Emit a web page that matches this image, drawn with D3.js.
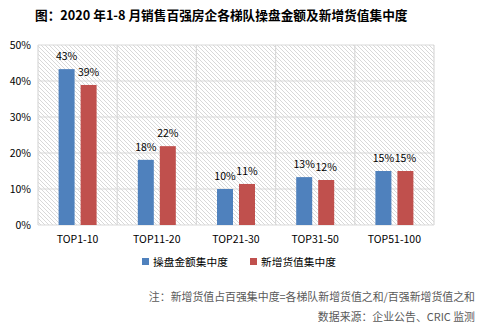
<!DOCTYPE html>
<html><head><meta charset="utf-8">
<script src="https://cdn.jsdelivr.net/npm/d3@7"></script>
<style>
body{margin:0;background:#fff;}
text{font-family:"Noto Sans CJK SC","Noto Sans",sans-serif;}
</style></head>
<body><svg id="c" width="487" height="332"></svg>
<script>
const categories = ["TOP1-10","TOP11-20","TOP21-30","TOP31-50","TOP51-100"];
const seriesNames = ["操盘金额集中度","新增货值集中度"];
const operateValues = [43.3, 18.1, 10.0, 13.3, 15.0];
const newValues = [38.9, 21.9, 11.4, 12.5, 15.0];
const valueLabels = [["43%","39%"],["18%","22%"],["10%","11%"],["13%","12%"],["15%","15%"]];
const yTicks = [0,10,20,30,40,50];
const colors = ["#4f81bd","#c0504d"];
const titleText = "图：2020 年1-8 月销售百强房企各梯队操盘金额及新增货值集中度";
const note1 = "注：新增货值占百强集中度=各梯队新增货值之和/百强新增货值之和";
const note2 = "数据来源：企业公告、CRIC 监测";

const svg = d3.select("#c");
const L=38, R=434, T=45, B=225;
const x = d3.scaleBand().domain(categories).range([L,R]);
const y = d3.scaleLinear().domain([0,50]).range([B,T]);
const barW = 16, gap = 6;

const defs = svg.append("defs");
const pat = defs.append("pattern").attr("id","hatch").attr("patternUnits","userSpaceOnUse")
  .attr("width",4).attr("height",4);
pat.append("path").attr("d","M-1,-1 L5,5 M-1,3 L1,5 M3,-1 L5,1").attr("stroke","#d4d4d4").attr("stroke-width",0.9);

svg.append("rect").attr("x",L).attr("y",T).attr("width",R-L).attr("height",B-T).attr("fill","url(#hatch)");

// gridlines
svg.append("g").selectAll("line").data(yTicks).join("line")
  .attr("x1",L).attr("x2",R).attr("y1",d=>y(d)).attr("y2",d=>y(d))
  .attr("stroke","#d9d9d9").attr("stroke-width",1.2);
const bounds = categories.map(c=>x(c)).concat([R]);
svg.append("g").selectAll("line").data(bounds).join("line")
  .attr("x1",d=>d).attr("x2",d=>d).attr("y1",T).attr("y2",B)
  .attr("stroke","#d9d9d9").attr("stroke-width",1.2);

// y axis labels
svg.append("g").selectAll("text").data(yTicks).join("text")
  .attr("x",L-7).attr("y",d=>y(d)+4).attr("text-anchor","end")
  .attr("font-size",10.5).attr("fill","#000").text(d=>d+"%");

// bars
const data = categories.map((c,i)=>({c,i,vals:[operateValues[i],newValues[i]]}));
const groups = svg.append("g").selectAll("g").data(data).join("g");
groups.each(function(d){
  const g = d3.select(this);
  const cx = x(d.c)+x.bandwidth()/2;
  d.vals.forEach((v,s)=>{
    const bx = s===0 ? cx - gap/2 - barW : cx + gap/2;
    g.append("rect").attr("x",bx).attr("y",y(v)).attr("width",barW).attr("height",y(0)-y(v)).attr("fill",colors[s]);
    g.append("text").attr("x",bx+barW/2).attr("y",y(v)-9).attr("text-anchor","middle")
      .attr("font-size",10.5).attr("fill","#000").text(valueLabels[d.i][s]);
  });
});

// x labels
svg.append("g").selectAll("text").data(categories).join("text")
  .attr("x",d=>x(d)+x.bandwidth()/2).attr("y",243).attr("text-anchor","middle")
  .attr("font-size",10.5).attr("fill","#000").text(d=>d);

// legend
const leg = [{x:142,tx:153},{x:250,tx:261}];
seriesNames.forEach((n,i)=>{
  svg.append("rect").attr("x",leg[i].x).attr("y",258).attr("width",7).attr("height",7).attr("fill",colors[i]);
  svg.append("text").attr("x",leg[i].tx).attr("y",265.5).attr("font-size",10.7).attr("fill","#000").text(n);
});

// title
svg.append("text").attr("x",35).attr("y",20).attr("font-size",12.7).attr("font-weight","bold").attr("fill","#000").text(titleText);

// notes
svg.append("text").attr("x",475).attr("y",301).attr("text-anchor","end").attr("font-size",10.9).attr("fill","#595959").text(note1);
svg.append("text").attr("x",475).attr("y",321).attr("text-anchor","end").attr("font-size",10.9).attr("fill","#595959").text(note2);
</script></body></html>
